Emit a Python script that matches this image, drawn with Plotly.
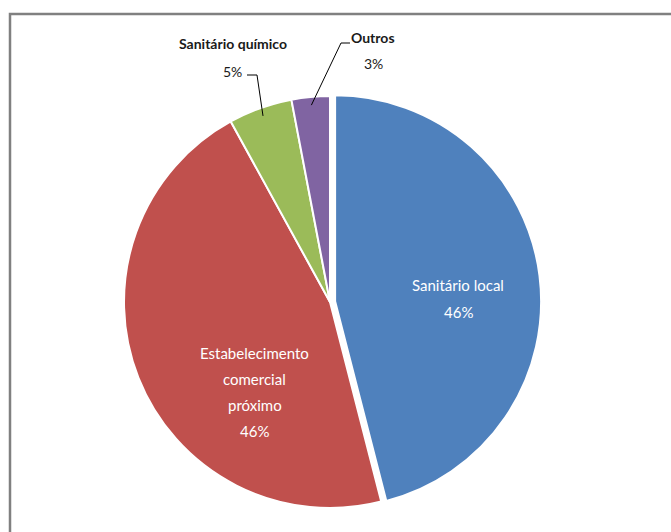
import numpy as np
import plotly.graph_objects as go

# ---- data ----
labels = ["Sanitário local", "Estabelecimento comercial próximo", "Sanitário químico", "Outros"]
values = [46, 46, 5, 3]
pct_text = ["46%", "46%", "5%", "3%"]
colors = ["#4F81BD", "#C0504D", "#9BBB59", "#8064A2"]
pulls = [0.025, 0, 0, 0]

W, H = 671, 532
CX, CY, R = 330, 302, 206  # pie centre / radius in px


def px(x):
    return x / W


def py(y):
    return 1 - y / H


half = R * (1 + max(pulls))
fig = go.Figure()
fig.add_trace(go.Pie(
    labels=labels, values=values, sort=False, direction="clockwise", rotation=0,
    marker=dict(colors=colors, line=dict(color="white", width=2)),
    pull=pulls, textinfo="none", hoverinfo="label+percent",
    domain=dict(x=[px(CX - half), px(CX + half)], y=[py(CY + half), py(CY - half)]),
    showlegend=False,
))

FONT = "Lato, 'Open Sans', sans-serif"
ann = []


def add_text(x, y, text, size, color, bold=False):
    t = f"<b>{text}</b>" if bold else text
    ann.append(dict(x=px(x), y=py(y), xref="paper", yref="paper", text=t, showarrow=False,
                    font=dict(family=FONT, size=size, color=color), xanchor="center", yanchor="middle"))


# inside labels (white)
add_text(458, 285, labels[0], 15, "white")
add_text(458, 312, pct_text[0], 15, "white")
red_lines = ["Estabelecimento", "comercial", "próximo"]
for i, ln in enumerate(red_lines):
    add_text(255, 353 + i * 26, ln, 15, "white")
add_text(255, 431, pct_text[1], 15, "white")

# outside labels
add_text(233, 44, labels[2], 14, "#1a1a1a", bold=True)
add_text(232, 71, pct_text[2], 14, "#1a1a1a")
add_text(373, 37, labels[3], 14, "#1a1a1a", bold=True)
add_text(374, 63, pct_text[3], 14, "#1a1a1a")

# leader lines, ending at the mid angle of each small slice
cum = np.cumsum([0] + values) / sum(values) * 360
mids = (cum[:-1] + cum[1:]) / 2


def slice_point(i, frac):
    a = np.deg2rad(mids[i])
    return CX + R * frac * np.sin(a), CY - R * frac * np.cos(a)


shapes = []
gx, gy = slice_point(2, 0.96)
shapes.append(dict(type="path", xref="paper", yref="paper",
                   path=f"M {px(247)} {py(75)} L {px(257)} {py(75)} L {px(gx)} {py(gy)}",
                   line=dict(color="#000000", width=1)))
ox, oy = slice_point(3, 0.96)
shapes.append(dict(type="path", xref="paper", yref="paper",
                   path=f"M {px(350)} {py(43)} L {px(341)} {py(43)} L {px(ox)} {py(oy)}",
                   line=dict(color="#000000", width=1)))
# chart frame
shapes.append(dict(type="rect", xref="paper", yref="paper",
                   x0=px(10), x1=px(W + 20), y0=py(H + 20), y1=py(14),
                   line=dict(color="#808080", width=2.5), fillcolor="rgba(0,0,0,0)"))

fig.update_layout(width=W, height=H, margin=dict(l=0, r=0, t=0, b=0),
                  paper_bgcolor="white", plot_bgcolor="white",
                  annotations=ann, shapes=shapes)
fig.write_html("out.html")
